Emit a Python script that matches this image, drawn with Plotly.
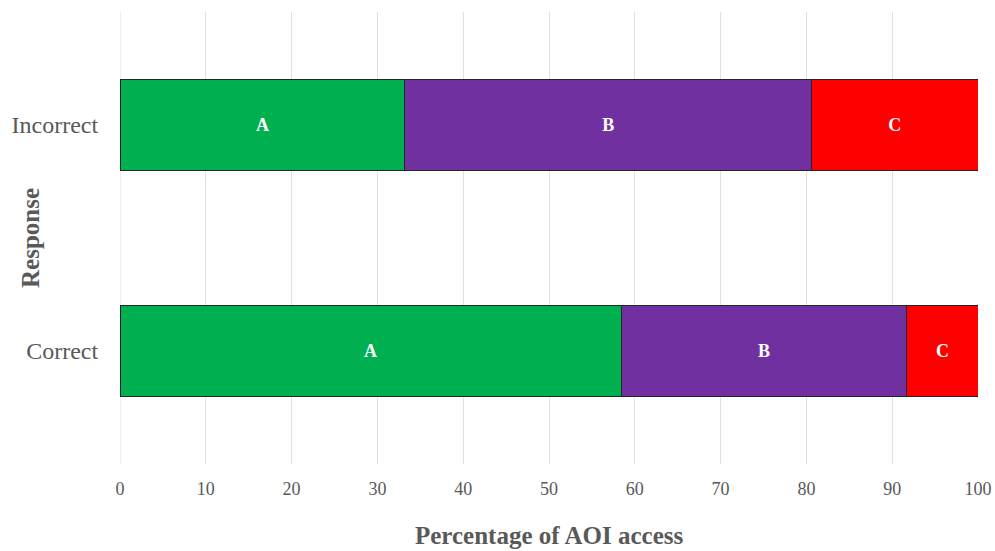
import plotly.graph_objects as go

responses = ["Correct", "Incorrect"]
aoi_labels = ["A", "B", "C"]
aoi_colors = ["#00b050", "#7030a0", "#ff0000"]
pct_a = [58.4, 33.2]
pct_b = [33.3, 47.4]
pct_c = [8.3, 19.4]
x_ticks = [0, 10, 20, 30, 40, 50, 60, 70, 80, 90, 100]

fig = go.Figure()
for name, vals, color in zip(aoi_labels, [pct_a, pct_b, pct_c], aoi_colors):
    fig.add_trace(go.Bar(
        y=responses, x=vals, orientation="h", name=name,
        marker=dict(color=color, line=dict(color="#262626", width=1)),
        text=[name] * len(vals), textposition="inside", insidetextanchor="middle",
        textfont=dict(family="Liberation Serif", size=18, color="white"),
        texttemplate="<b>%{text}</b>", width=0.4,
    ))

fig.update_layout(
    barmode="stack",
    width=995, height=551,
    margin=dict(l=120, r=17, t=12, b=87),
    plot_bgcolor="white", paper_bgcolor="white",
    showlegend=False,
    font=dict(family="Liberation Serif", color="#595959"),
    xaxis=dict(
        range=[0, 100], tickvals=x_ticks, showgrid=True, gridcolor="#e0e0e0",
        zeroline=False, tickfont=dict(size=18, color="#595959"),
        ticks="outside", ticklen=8, tickcolor="white", automargin=False,
    ),
    yaxis=dict(
        range=[-0.5, 1.5], showgrid=False, tickfont=dict(size=24, color="#595959"),
        ticks="outside", ticklen=16, tickcolor="white", automargin=False,
    ),
    annotations=[
        dict(text="<b>Percentage of AOI access</b>", xref="paper", yref="paper",
             x=0.5, y=0, xanchor="center", yanchor="middle", yshift=-71,
             showarrow=False, font=dict(size=25, color="#595959")),
        dict(text="<b>Response</b>", xref="paper", yref="paper",
             x=0, y=0.5, xanchor="center", yanchor="middle", xshift=-90, textangle=-90,
             showarrow=False, font=dict(size=25, color="#595959")),
    ],
)
fig.add_shape(type="line", xref="x", yref="paper", x0=0, x1=0, y0=0, y1=1,
              line=dict(color="#e0e0e0", width=1), layer="below")

fig.write_html("out.html")
